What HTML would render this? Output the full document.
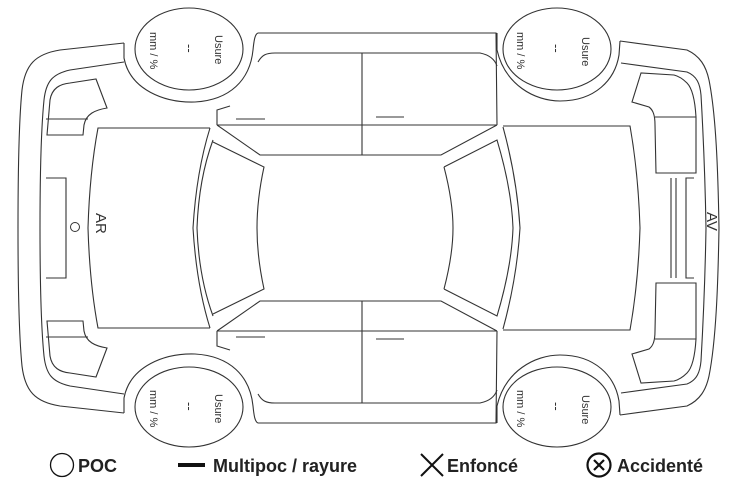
<!DOCTYPE html>
<html><head><meta charset="utf-8"><style>
html,body{margin:0;padding:0;background:#fff;width:749px;height:482px;overflow:hidden}
svg{display:block}
.l{font-family:"Liberation Sans",Arial,sans-serif;font-size:11px;fill:#333}
.g{font-family:"Liberation Sans",Arial,sans-serif;font-weight:bold;font-size:18px;fill:#222}
</style></head><body>
<svg width="749" height="482" viewBox="0 0 749 482" xmlns="http://www.w3.org/2000/svg">
<defs>
<g id="half" fill="none" stroke="#333" stroke-width="1.1">
  <path d="M124,43 L60,50 C35,54 25,65 22,90 C19,120 18,170 18,228"/>
  <path d="M124,62 L70,70 C52,74 46,82 44,100 C41,130 40,170 40,228"/>
  <path d="M96,79 L107,108 C95,110 86,114 84,125 L83,135 L47,135 L50,100 C52,88 60,84 70,83 Z"/>
  <line x1="46" y1="119" x2="88" y2="119"/>
  <path d="M46,178 L66,178 L66,228"/>
  <path d="M124,43 L124,58 C130,90 165,103 195,102 C230,100 250,80 253,50 C254,40 255,34 258,33"/>
  <path d="M217,125 L217,110 L230,106"/>
  <path d="M258,33 L496,33 L497,125"/>
  <path d="M258,62 C262,55 266,53 275,53 L480,53 C490,55 495,60 497,66"/>
  <line x1="217" y1="125" x2="497" y2="125"/>
  <path d="M217,125 L260,155 L441,155 L497,125"/>
  <line x1="362" y1="53" x2="362" y2="155"/>
  <line x1="236" y1="119" x2="265" y2="119"/>
  <line x1="376" y1="117" x2="404" y2="117"/>
  <path d="M210,128 L98,128 C92,160 89,195 88,228"/>
  <path d="M210,128 C200,160 195,195 193,228"/>
  <path d="M213,140 C202,170 198,200 197,228"/>
  <path d="M213,142 L264,167 C259,190 257,210 257,228"/>
  <path d="M444,167 L497,140 C506,170 512,200 513,228"/>
  <path d="M444,167 C450,190 453,210 453,228"/>
  <path d="M503,127 C512,160 518,195 520,228"/>
  <path d="M503,126 L630,126 C636,160 639,195 640,228"/>
  <path d="M497,33 L497,50 C505,85 535,101 560,101 C595,101 615,80 619,55 L620,41"/>
  <path d="M620,41 L687,50 C700,56 706,66 709,80 C716,115 718,170 719,228"/>
  <path d="M621,63 L687,72 C697,76 700,84 701,95 C703,130 705,170 706,228"/>
  <path d="M641,73 L632,102 L649,107 C653,110 655,115 655,125 L656,173 L696,173 L696,117 C695,100 692,88 687,83 C682,78 678,76 674,75 Z"/>
  <line x1="655" y1="117" x2="696" y2="117"/>
  <line x1="671" y1="178" x2="671" y2="228"/>
  <line x1="676" y1="178" x2="676" y2="228"/>
  <path d="M686,228 L686,178 L694,178"/>
</g>
</defs>
<use href="#half"/>
<use href="#half" transform="translate(0,456) scale(1,-1)"/>
<circle cx="75" cy="227" r="4.5" fill="none" stroke="#333" stroke-width="1"/>
<text class="l" style="font-size:15px" transform="translate(96,213) rotate(90)">AR</text>
<text class="l" style="font-size:15px" transform="translate(707,212) rotate(90)">AV</text>
<g fill="none" stroke="#333" stroke-width="1.1">
  <ellipse cx="189" cy="49" rx="54" ry="41"/>
  <ellipse cx="557" cy="49" rx="54" ry="41"/>
  <ellipse cx="189" cy="407" rx="54" ry="40"/>
  <ellipse cx="557" cy="407" rx="54" ry="40"/>
</g>
<g class="l">
  <text transform="translate(215,35) rotate(90)">Usure</text>
  <text style="font-size:13px" transform="translate(185,44) rotate(90)">--</text>
  <text transform="translate(150,32) rotate(90)">mm / %</text>
  <text transform="translate(582,37) rotate(90)">Usure</text>
  <text style="font-size:13px" transform="translate(552,44) rotate(90)">--</text>
  <text transform="translate(517,32) rotate(90)">mm / %</text>
  <text transform="translate(215,394) rotate(90)">Usure</text>
  <text style="font-size:13px" transform="translate(185,402) rotate(90)">--</text>
  <text transform="translate(150,390) rotate(90)">mm / %</text>
  <text transform="translate(582,395) rotate(90)">Usure</text>
  <text style="font-size:13px" transform="translate(552,402) rotate(90)">--</text>
  <text transform="translate(517,390) rotate(90)">mm / %</text>
</g>
<circle cx="62" cy="465" r="11.5" fill="none" stroke="#111" stroke-width="1.3"/>
<text class="g" x="78" y="472">POC</text>
<rect x="178" y="463" width="27" height="4" fill="#111"/>
<text class="g" x="213" y="472">Multipoc / rayure</text>
<path d="M421,454 L443,476 M443,454 L421,476" stroke="#111" stroke-width="2"/>
<text class="g" x="447" y="472">Enfoncé</text>
<circle cx="599" cy="465" r="11.5" fill="none" stroke="#111" stroke-width="2.2"/>
<path d="M594,460 L604,470 M604,460 L594,470" stroke="#111" stroke-width="2.2"/>
<text class="g" x="617" y="472">Accidenté</text>
</svg>
</body></html>
